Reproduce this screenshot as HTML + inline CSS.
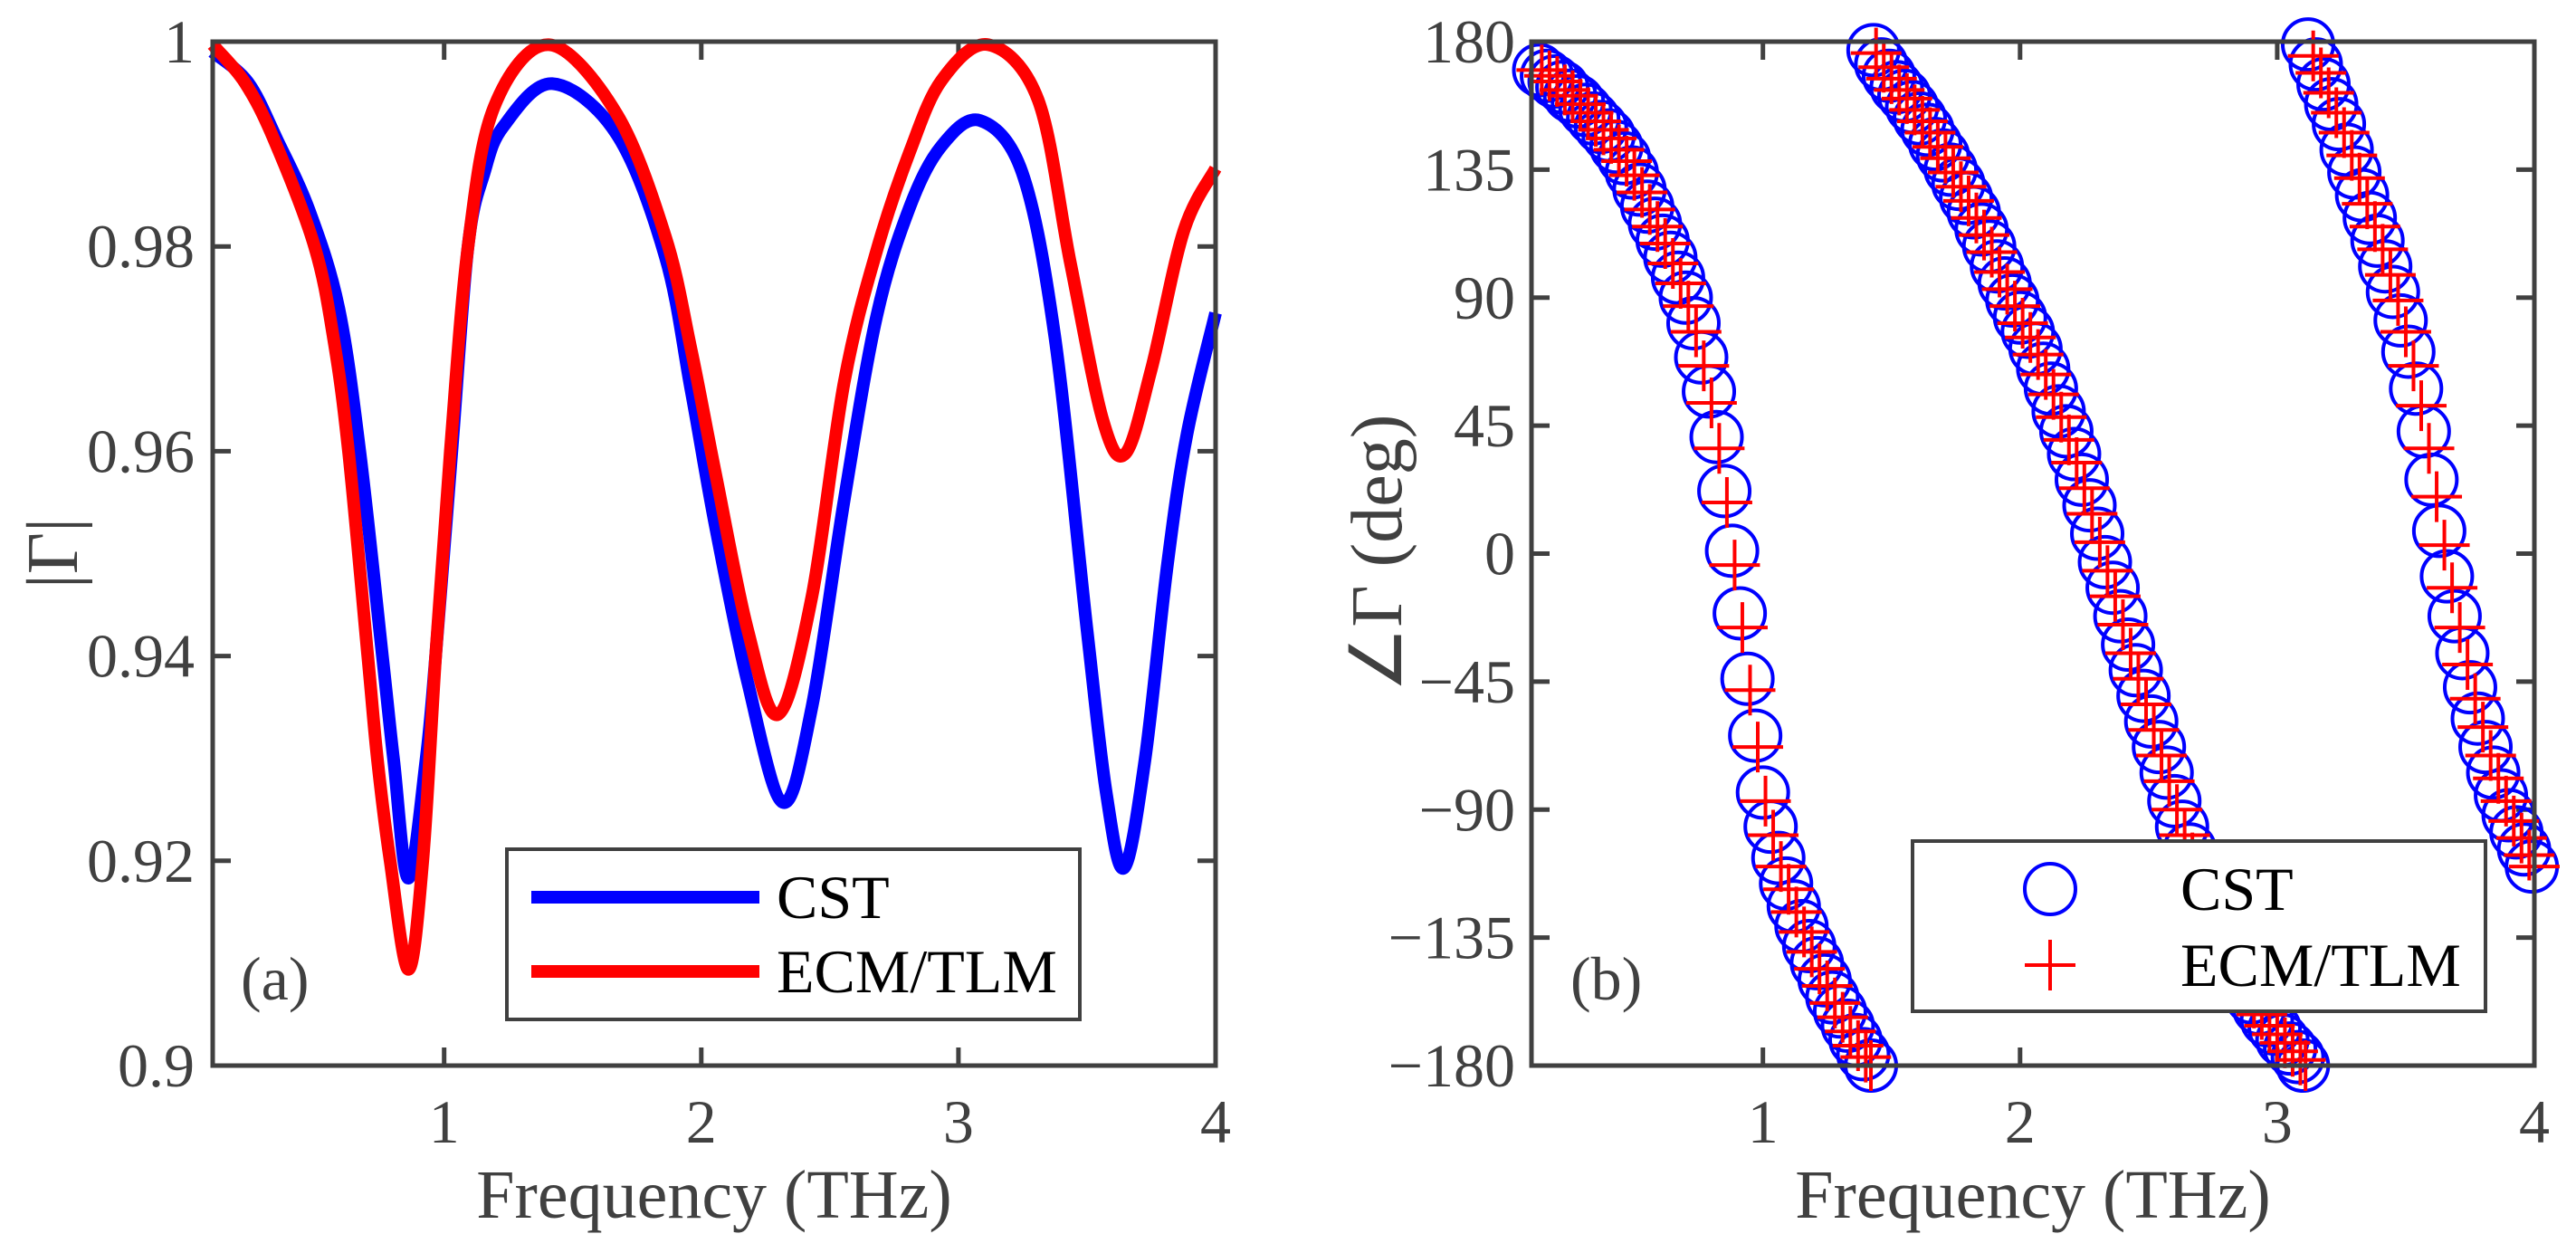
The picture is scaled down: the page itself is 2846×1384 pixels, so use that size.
<!DOCTYPE html>
<html><head><meta charset="utf-8">
<style>
html,body{margin:0;padding:0;background:#fff;}
svg{display:block;font-family:"Liberation Serif",serif;}
</style></head>
<body>
<svg id="fig" width="2846" height="1384" viewBox="0 0 2846 1384" xmlns="http://www.w3.org/2000/svg">
<rect width="2846" height="1384" fill="#fff"/>
<g id="pa"></g>
<g id="pb"></g>
</svg>
<script>
// ---- Panel (a) data ----
const cstFreqA = [0.1,0.238,0.351,0.477,0.59,0.672,0.76,0.804,0.861,0.93,0.967,1.03,1.093,1.156,1.23,1.42,1.67,1.86,1.96,2.054,2.18,2.317,2.43,2.556,2.682,2.81,2.934,3.084,3.248,3.374,3.5,3.575,3.644,3.725,3.813,3.889,4.0];
const cstMagA  = [0.999,0.996,0.9904,0.9834,0.974,0.960,0.940,0.9298,0.9183,0.930,0.940,0.960,0.980,0.9872,0.9917,0.9959,0.991,0.979,0.966,0.9528,0.9375,0.9257,0.935,0.9553,0.9732,0.9838,0.9898,0.9923,0.9872,0.9713,0.9426,0.9266,0.9193,0.9298,0.949,0.9617,0.9735];
const ecmFreqA = [0.1,0.225,0.339,0.496,0.57,0.628,0.703,0.741,0.79,0.861,0.917,0.967,1.024,1.093,1.194,1.407,1.67,1.86,1.96,2.054,2.18,2.299,2.43,2.556,2.682,2.81,2.934,3.116,3.31,3.436,3.562,3.65,3.75,3.876,4.0];
const ecmMagA  = [0.9997,0.996,0.9904,0.980,0.971,0.960,0.940,0.9298,0.920,0.9094,0.920,0.940,0.960,0.980,0.9936,0.9997,0.993,0.981,0.970,0.958,0.9426,0.9343,0.9458,0.9668,0.9796,0.9892,0.9962,0.9997,0.9943,0.9783,0.963,0.9598,0.968,0.9815,0.9876];
const xTicksA = [1,2,3,4];
const yTicksA = [0.9,0.92,0.94,0.96,0.98,1];
const yTickLabelsA = ["0.9","0.92","0.94","0.96","0.98","1"];

// ---- Panel (b) data ----
const cstFreqB = [0.13,0.16,0.19,0.22,0.25,0.28,0.31,0.34,0.37,0.40,0.43,0.46,0.49,0.52,0.55,0.58,0.61,0.64,0.67,0.70,0.73,0.76,0.79,0.82,0.85,0.88,0.91,0.94,0.97,1.00,1.03,1.06,1.09,1.12,1.15,1.18,1.21,1.24,1.27,1.30,1.33,1.36,1.39,1.42,
 1.43,1.46,1.49,1.52,1.55,1.58,1.61,1.64,1.67,1.70,1.73,1.76,1.79,1.82,1.85,1.88,1.91,1.94,1.97,2.00,2.03,2.06,2.09,2.12,2.15,2.18,2.21,2.24,2.27,2.30,2.33,2.36,2.39,2.42,2.45,2.48,2.51,2.54,2.57,2.60,2.63,2.66,2.69,2.72,2.75,2.78,2.81,2.84,2.87,2.90,2.93,2.96,2.99,3.02,3.05,3.08,3.10,
 3.12,3.15,3.18,3.21,3.24,3.27,3.30,3.33,3.36,3.39,3.42,3.45,3.48,3.51,3.54,3.57,3.60,3.63,3.66,3.69,3.72,3.75,3.78,3.81,3.84,3.87,3.90,3.93,3.96,3.99];
const cstPhaseB = [170,168,166,164,161,159,156,153,150,147,143,139,134,128,122,116,110,104,97,90,81,69,57,41,22,1,-21,-44,-64,-84,-96,-107,-116,-124,-131,-138,-144,-150,-156,-161,-166,-171,-176,-180,
 177,172,168,164,161,157,153,149,144,140,135,130,125,120,114,108,101,95,89,83,78,72,65,58,50,43,35,26,17,7,-3,-12,-22,-32,-41,-50,-59,-68,-77,-87,-96,-104,-112,-120,-127,-134,-140,-146,-151,-156,-160,-164,-167,-171,-174,-177,-180,
 179,172,165,158,151,142,134,126,118,110,101,92,82,71,58,43,26,8,-8,-22,-35,-47,-58,-68,-77,-85,-92,-98,-104,-110];
const ecmFreqB = [0.14,0.17,0.20,0.23,0.26,0.29,0.32,0.35,0.38,0.41,0.44,0.47,0.50,0.53,0.56,0.59,0.62,0.65,0.68,0.71,0.74,0.77,0.80,0.83,0.86,0.89,0.92,0.95,0.98,1.01,1.04,1.07,1.10,1.13,1.16,1.19,1.22,1.25,1.28,1.31,1.34,1.37,1.40,1.42,
 1.44,1.47,1.50,1.53,1.56,1.59,1.62,1.65,1.68,1.71,1.74,1.77,1.80,1.83,1.86,1.89,1.92,1.95,1.98,2.01,2.04,2.07,2.10,2.13,2.16,2.19,2.22,2.25,2.28,2.31,2.34,2.37,2.40,2.43,2.46,2.49,2.52,2.55,2.58,2.61,2.64,2.67,2.70,2.73,2.76,2.79,2.82,2.85,2.88,2.91,2.94,2.97,3.00,3.03,3.06,3.09,3.11,
 3.14,3.17,3.20,3.23,3.26,3.29,3.32,3.35,3.38,3.41,3.44,3.47,3.50,3.53,3.56,3.59,3.62,3.65,3.68,3.71,3.74,3.77,3.80,3.83,3.86,3.89,3.92,3.95,3.98,4.00];
const ecmPhaseB = [170,168,166,163,161,158,155,152,149,146,142,138,133,127,121,115,109,102,95,87,78,66,53,37,18,-4,-26,-48,-68,-87,-99,-110,-118,-126,-133,-140,-146,-152,-158,-163,-168,-173,-177,-180,
 176,171,167,163,160,156,152,148,143,139,134,129,124,118,112,106,99,93,87,81,76,70,63,56,48,40,32,23,14,4,-6,-15,-25,-35,-44,-53,-62,-71,-80,-90,-99,-107,-115,-122,-129,-136,-142,-148,-153,-158,-162,-166,-169,-172,-175,-178,-180,
 175,169,162,155,148,140,132,123,115,107,98,89,78,66,52,37,20,3,-12,-26,-39,-51,-61,-71,-79,-87,-94,-100,-106,-110];
const xTicksB = [1,2,3,4];
const yTicksB = [-180,-135,-90,-45,0,45,90,135,180];
const yTickLabelsB = ["\u2212180","\u2212135","\u221290","\u221245","0","45","90","135","180"];

const NS = "http://www.w3.org/2000/svg";
function mk(parent, tag, attrs, text){
  const e = document.createElementNS(NS, tag);
  for (const k in attrs) e.setAttribute(k, attrs[k]);
  if (text !== undefined) e.textContent = text;
  parent.appendChild(e);
  return e;
}
const TOP = 46, BOT = 1177, XMIN = 0.1, XMAX = 4;
const AX = "#404040";

function catmull(pts){
  let d = "M" + pts[0][0].toFixed(1) + "," + pts[0][1].toFixed(1);
  for (let i = 0; i < pts.length - 1; i++){
    const p0 = pts[Math.max(0,i-1)], p1 = pts[i], p2 = pts[i+1], p3 = pts[Math.min(pts.length-1,i+2)];
    const c1 = [p1[0] + (p2[0]-p0[0])/6, p1[1] + (p2[1]-p0[1])/6];
    const c2 = [p2[0] - (p3[0]-p1[0])/6, p2[1] - (p3[1]-p1[1])/6];
    d += "C" + c1[0].toFixed(1)+","+c1[1].toFixed(1)+" "+c2[0].toFixed(1)+","+c2[1].toFixed(1)+" "+p2[0].toFixed(1)+","+p2[1].toFixed(1);
  }
  return d;
}

// ---------- Panel A ----------
(function(){
  const g = document.getElementById("pa");
  const L = 235, R = 1343;
  const sx = v => L + (v - XMIN) / (XMAX - XMIN) * (R - L);
  const sy = v => BOT - (v - 0.9) / 0.1 * (BOT - TOP);
  xTicksA.forEach(t => {
    const x = sx(t);
    const tk = mk(g, "path", {d:`M${x},${BOT}V${BOT-20}M${x},${TOP}V${TOP+20}`, stroke:AX, "stroke-width":5});
    
    
    const lb = mk(g, "text", {x:x, y:1262, "font-size":68, fill:AX, "text-anchor":"middle"}, String(t));
    
    
  });
  yTicksA.forEach((t,i) => {
    const y = sy(t);
    const tk = mk(g, "path", {d:`M${L},${y}H${L+20}M${R},${y}H${R-20}`, stroke:AX, "stroke-width":5});
    
    
    const lb = mk(g, "text", {x:215, y:y+23, "font-size":68, fill:AX, "text-anchor":"end"}, yTickLabelsA[i]);
    
    
  });
  const c = mk(g, "path", {d:catmull(cstFreqA.map((f,i)=>[sx(f), sy(cstMagA[i])])), fill:"none", stroke:"#0000ff", "stroke-width":14, "stroke-linejoin":"round"});
  
  
  const e = mk(g, "path", {d:catmull(ecmFreqA.map((f,i)=>[sx(f), sy(ecmMagA[i])])), fill:"none", stroke:"#ff0000", "stroke-width":14, "stroke-linejoin":"round"});
  
  
  const fr = mk(g, "rect", {x:L, y:TOP, width:R-L, height:BOT-TOP, fill:"none", stroke:AX, "stroke-width":5});
  
  
  const lg = mk(g, "g", {});
  
  
  mk(lg, "rect", {x:560, y:938, width:633, height:188, fill:"#fff", stroke:AX, "stroke-width":4});
  const l1 = mk(lg, "line", {x1:587, x2:839, y1:991, y2:991, stroke:"#0000ff", "stroke-width":14});
  
  
  const l2 = mk(lg, "line", {x1:587, x2:839, y1:1073, y2:1073, stroke:"#ff0000", "stroke-width":14});
  
  
  mk(lg, "text", {x:858, y:1014, "font-size":68, fill:"#000"}, "CST");
  mk(lg, "text", {x:858, y:1096, "font-size":68, fill:"#000"}, "ECM/TLM");
  const pl = mk(g, "text", {x:266, y:1104, "font-size":68, fill:AX}, "(a)");
  
  
  const xt = mk(g, "text", {x:(L+R)/2, y:1345, "font-size":76, fill:AX, "text-anchor":"middle"}, "Frequency (THz)");
  
  
  const yt = mk(g, "text", {x:0, y:0, "font-size":80, fill:AX, "text-anchor":"middle", transform:"translate(85,611) rotate(-90)"}, "|Γ|");
  
  
})();

// ---------- Panel B ----------
(function(){
  const g = document.getElementById("pb");
  const L = 1692, R = 2800;
  const sx = v => L + (v - XMIN) / (XMAX - XMIN) * (R - L);
  const sy = v => BOT - (v + 180) / 360 * (BOT - TOP);
  xTicksB.forEach(t => {
    const x = sx(t);
    const tk = mk(g, "path", {d:`M${x},${BOT}V${BOT-20}M${x},${TOP}V${TOP+20}`, stroke:AX, "stroke-width":5});
    
    
    const lb = mk(g, "text", {x:x, y:1262, "font-size":68, fill:AX, "text-anchor":"middle"}, String(t));
    
    
  });
  yTicksB.forEach((t,i) => {
    const y = sy(t);
    const tk = mk(g, "path", {d:`M${L},${y}H${L+20}M${R},${y}H${R-20}`, stroke:AX, "stroke-width":5});
    
    
    const lb = mk(g, "text", {x:1674, y:y+23, "font-size":68, fill:AX, "text-anchor":"end"}, yTickLabelsB[i]);
    
    
  });
  const gc = mk(g, "g", {fill:"none", stroke:"#0000ff", "stroke-width":4});
  
  
  cstFreqB.forEach((f,i) => {
    const m = mk(gc, "circle", {cx:sx(f), cy:sy(cstPhaseB[i]), r:28});
    
    
  });
  const ge = mk(g, "g", {fill:"none", stroke:"#ff0000", "stroke-width":4});
  
  
  ecmFreqB.forEach((f,i) => {
    const x = sx(f), y = sy(ecmPhaseB[i]);
    const m = mk(ge, "path", {d:`M${x-28},${y}H${x+28}M${x},${y-28}V${y+28}`});
    
    
  });
  const fr = mk(g, "rect", {x:L, y:TOP, width:R-L, height:BOT-TOP, fill:"none", stroke:AX, "stroke-width":5});
  
  
  const lg = mk(g, "g", {});
  
  
  mk(lg, "rect", {x:2113, y:929, width:633, height:188, fill:"#fff", stroke:AX, "stroke-width":4});
  const l1 = mk(lg, "circle", {cx:2265, cy:982, r:28, fill:"none", stroke:"#0000ff", "stroke-width":4});
  
  
  const l2 = mk(lg, "path", {d:"M2237,1066H2293M2265,1038V1094", stroke:"#ff0000", "stroke-width":4});
  
  
  mk(lg, "text", {x:2409, y:1005, "font-size":68, fill:"#000"}, "CST");
  mk(lg, "text", {x:2409, y:1089, "font-size":68, fill:"#000"}, "ECM/TLM");
  const pl = mk(g, "text", {x:1735, y:1104, "font-size":68, fill:AX}, "(b)");
  
  
  const xt = mk(g, "text", {x:(L+R)/2, y:1345, "font-size":76, fill:AX, "text-anchor":"middle"}, "Frequency (THz)");
  
  
  const yt = mk(g, "text", {x:0, y:0, "font-size":80, fill:AX, "text-anchor":"middle", transform:"translate(1548,611) rotate(-90)"}, "∠Γ (deg)");
  
  
})();
</script>
</body></html>
